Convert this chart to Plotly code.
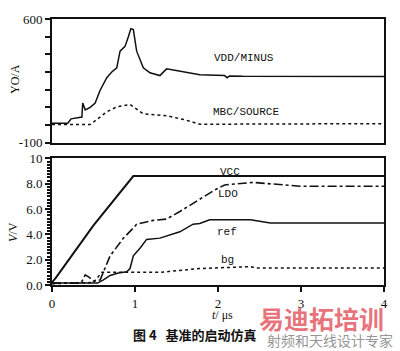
import plotly.graph_objects as go

# ---- data (top panel: current, A) ----
vdd_t = [0, 0.19, 0.23, 0.30, 0.36, 0.37, 0.40, 0.46, 0.52, 0.58, 0.66, 0.72, 0.78, 0.82, 0.88,
         0.92, 0.95, 0.98, 1.02, 1.10, 1.18, 1.30, 1.38, 1.58, 1.78, 2.08, 2.11, 2.14, 2.30, 4.0]
vdd_v = [10, 10, 35, 42, 45, 125, 86, 100, 125, 197, 268, 300, 324, 418, 445,
         500, 545, 540, 418, 324, 296, 280, 318, 302, 285, 280, 268, 278, 276, 275]
mbc_t = [0, 0.46, 0.54, 0.66, 0.78, 0.90, 0.94, 1.10, 1.38, 1.60, 1.78, 2.0, 4.0]
mbc_v = [3, 3, 31, 75, 103, 114, 116, 64, 53, 30, 5, 5, 8]

# ---- data (bottom panel: voltage, V) ----
vcc_t = [0, 0.05, 0.5, 0.98, 4.0]
vcc_v = [0.2, 0.6, 4.7, 8.6, 8.6]
ldo_t = [0, 0.35, 0.40, 0.45, 0.50, 0.58, 0.70, 0.86, 0.98, 1.02, 1.22, 1.38, 1.54, 1.78,
         1.96, 2.08, 2.42, 2.99, 4.0]
ldo_v = [0.15, 0.15, 0.8, 0.6, 0.3, 0.4, 2.3, 3.7, 4.5, 4.8, 5.1, 5.2, 5.8, 6.8,
         7.5, 7.9, 8.1, 7.8, 7.8]
ref_t = [0, 0.55, 0.62, 0.70, 0.80, 0.90, 0.94, 0.98, 1.06, 1.14, 1.30, 1.54, 1.70, 1.78,
         1.90, 2.39, 2.63, 4.0]
ref_v = [0.15, 0.15, 0.4, 0.75, 0.95, 1.05, 1.3, 2.3, 2.9, 3.6, 3.7, 4.2, 4.8, 4.85,
         5.15, 5.15, 4.9, 4.9]
bg_t = [0, 0.50, 0.60, 1.30, 1.54, 1.78, 2.39, 2.45, 4.0]
bg_v = [0.1, 0.2, 1.0, 1.0, 1.15, 1.3, 1.45, 1.35, 1.35]

x_ticks = [0, 1, 2, 3, 4]
top_ticks = [-100, 0, 100, 200, 300, 400, 500, 600]
top_ticktext = ["-100", "", "", "", "", "", "", "600"]
bot_ticks = [0, 2, 4, 6, 8, 10]
bot_ticktext = ["0.0", "2.0", "4.0", "6.0", "8.0", "10"]

INK = "#111111"
fig = go.Figure()
fig.add_trace(go.Scatter(x=vdd_t, y=vdd_v, mode="lines", line=dict(color=INK, width=1.5),
                         xaxis="x", yaxis="y"))
fig.add_trace(go.Scatter(x=mbc_t, y=mbc_v, mode="lines", line=dict(color=INK, width=1.5, dash="dot"),
                         xaxis="x", yaxis="y"))
fig.add_trace(go.Scatter(x=vcc_t, y=vcc_v, mode="lines", line=dict(color=INK, width=2),
                         xaxis="x2", yaxis="y2"))
fig.add_trace(go.Scatter(x=ldo_t, y=ldo_v, mode="lines", line=dict(color=INK, width=1.6, dash="dashdot"),
                         xaxis="x2", yaxis="y2"))
fig.add_trace(go.Scatter(x=ref_t, y=ref_v, mode="lines", line=dict(color=INK, width=1.5),
                         xaxis="x2", yaxis="y2"))
fig.add_trace(go.Scatter(x=bg_t, y=bg_v, mode="lines", line=dict(color=INK, width=1.5, dash="dot"),
                         xaxis="x2", yaxis="y2"))

tickfont = dict(family="Liberation Serif", size=13, color=INK)
common_x = dict(range=[0, 4], showgrid=False, zeroline=False, showline=True, linecolor=INK,
                linewidth=1.8, mirror=True)
fig.update_layout(
    width=400, height=351,
    margin=dict(l=52, r=16, t=12, b=66),
    paper_bgcolor="white", plot_bgcolor="white",
    showlegend=False,
    xaxis=dict(common_x, domain=[0, 1], anchor="y", showticklabels=False, ticks=""),
    yaxis=dict(domain=[0.5348, 1], range=[-100, 600], tickvals=top_ticks, ticktext=top_ticktext,
               ticks="outside", ticklen=5, tickcolor=INK, tickwidth=1.5, showgrid=False,
               zeroline=False, showline=True, linecolor=INK, linewidth=1.8, mirror=True,
               tickfont=tickfont, anchor="x"),
    xaxis2=dict(common_x, domain=[0, 1], anchor="y2", tickvals=x_ticks, ticks="outside", ticklen=5,
                tickcolor=INK, tickwidth=1.5, tickfont=tickfont),
    yaxis2=dict(domain=[0, 0.4762], range=[0, 10], tickvals=bot_ticks, ticktext=bot_ticktext,
                ticks="outside", ticklen=5, tickcolor=INK, tickwidth=1.5, showgrid=False,
                zeroline=False, showline=True, linecolor=INK, linewidth=1.8, mirror=True,
                tickfont=tickfont, anchor="x2",
                minor=dict(dtick=0.25, ticks="outside", ticklen=3, tickcolor=INK, showgrid=False)),
)

lab = dict(family="Liberation Mono", size=11, color=INK)
annos = [
    dict(x=2.31, y=380, xref="x", yref="y", text="VDD/MINUS"),
    dict(x=2.34, y=74, xref="x", yref="y", text="MBC/SOURCE"),
    dict(x=2.14, y=8.95, xref="x2", yref="y2", text="VCC"),
    dict(x=2.12, y=7.15, xref="x2", yref="y2", text="LDO"),
    dict(x=2.11, y=4.2, xref="x2", yref="y2", text="ref"),
    dict(x=2.11, y=1.96, xref="x2", yref="y2", text="bg"),
]
for a in annos:
    fig.add_annotation(**a, showarrow=False, font=lab, xanchor="center", yanchor="middle")

# axis titles
fig.add_annotation(x=-0.111, y=0.775, xref="paper", yref="paper", text="YO/A", textangle=-90,
                   showarrow=False, xanchor="center", yanchor="middle",
                   font=dict(family="Liberation Serif", size=12, color=INK))
fig.add_annotation(x=-0.117, y=0.2, xref="paper", yref="paper", text="<i>V</i>/V", textangle=-90,
                   showarrow=False, xanchor="center", yanchor="middle",
                   font=dict(family="Liberation Serif", size=12, color=INK))
fig.add_annotation(x=2.06, y=-0.112, xref="x2", yref="paper", text="<i>t</i>/ μs",
                   showarrow=False, xanchor="center", yanchor="middle",
                   font=dict(family="Liberation Serif", size=12, color=INK))
# caption
fig.add_annotation(x=0.43, y=-0.187, xref="paper", yref="paper", text="<b>图 4   基准的启动仿真</b>",
                   showarrow=False, xanchor="center", yanchor="middle",
                   font=dict(family="Noto Sans CJK SC", size=13, color=INK))
# watermark
fig.add_annotation(x=0.813, y=-0.125, xref="paper", yref="paper", text="<b>易迪拓培训</b>",
                   showarrow=False, xanchor="center", yanchor="middle",
                   font=dict(family="Noto Sans CJK SC", size=25, color="rgba(225,70,80,0.75)"))
fig.add_annotation(x=0.837, y=-0.207, xref="paper", yref="paper", text="射频和天线设计专家",
                   showarrow=False, xanchor="center", yanchor="middle",
                   font=dict(family="Noto Sans CJK SC", size=14, color="rgba(120,120,120,0.8)"))

fig.write_html("out.html")
